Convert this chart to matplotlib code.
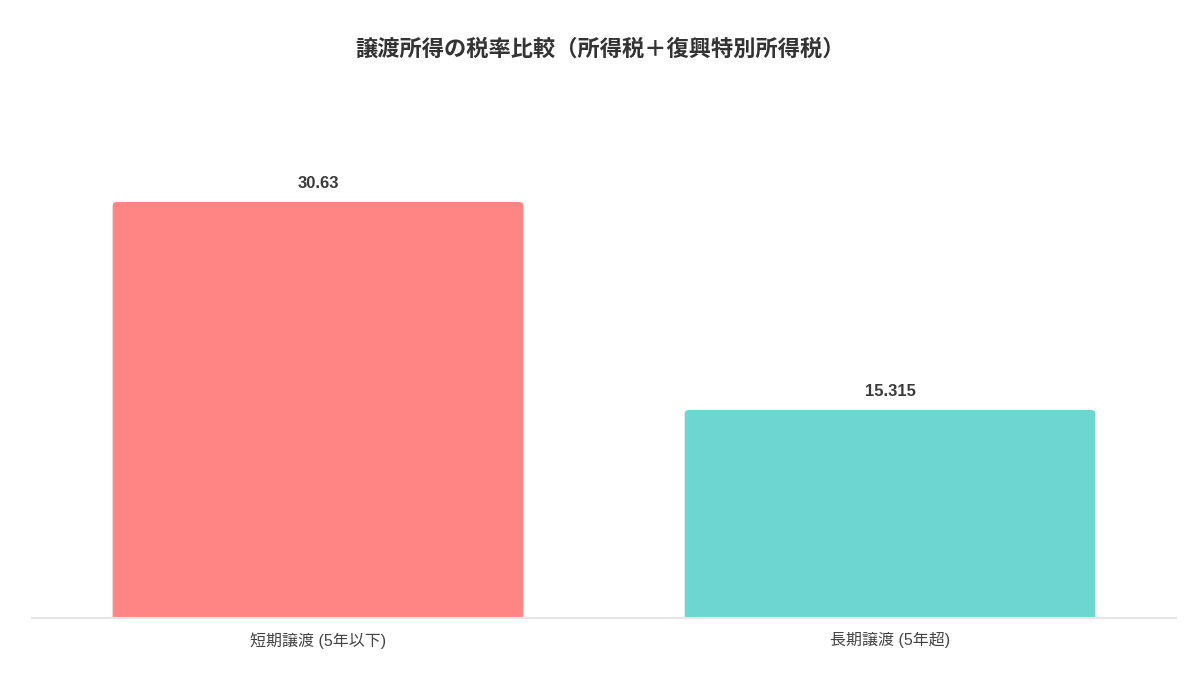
import matplotlib
matplotlib.use('Agg')
from matplotlib import pyplot as plt
from matplotlib.patches import FancyBboxPatch

categories = ['短期譲渡 (5年以下)', '長期譲渡 (5年超)']
rates = [30.63, 15.315]
rate_labels = ['30.63', '15.315']
colors = ['#FF8585', '#6ED6D0']
title = '譲渡所得の税率比較（所得税＋復興特別所得税）'

plt.rcParams['font.family'] = ['Liberation Sans', 'Noto Sans CJK JP', 'DejaVu Sans']

fig = plt.figure(figsize=(12, 6.75), dpi=100)
ax = fig.add_axes([32/1200, 57/675, 1144/1200, 518/675])

ax.set_xlim(-0.5, 1.5)
ax.set_ylim(0, 30.63*518/416)

x = list(range(len(categories)))
bars = ax.bar(x, rates, width=0.718, color=colors, zorder=2)

# round the top corners (about 4 px)
xpp = 2.0 / 1144
ypp = (30.63*518/416) / 518
r = 4 * xpp
for b in bars:
  b.set_visible(False)
  p = FancyBboxPatch((b.get_x(), -5*ypp), b.get_width(), b.get_height() + 5*ypp,
                     boxstyle=f'round,pad=0,rounding_size={r}',
                     mutation_aspect=ypp/xpp, facecolor=b.get_facecolor(),
                     edgecolor='none', zorder=2)
  ax.add_patch(p)

for b, lab in zip(bars, rate_labels):
  ax.annotate(lab, (b.get_x() + b.get_width()/2, b.get_height()),
              xytext=(0, 8), textcoords='offset points',
              ha='center', va='bottom', fontsize=12, fontweight='bold', color='#3a3a3a')

ax.set_xticks(x)
ax.set_xticklabels(categories, fontsize=11.5, color='#444444')
ax.tick_params(axis='x', length=0, pad=10)
ax.set_yticks([])
for s in ['top', 'right', 'left']:
  ax.spines[s].set_visible(False)
ax.spines['bottom'].set_color('#e6e6e6')
ax.spines['bottom'].set_linewidth(1.5)
ax.spines['bottom'].set_zorder(3)

fig.text(0.5, 1 - 50/675, title, ha='center', va='center',
         fontsize=16, fontweight='bold', color='#333333')

fig.savefig('out.png', dpi=100)
